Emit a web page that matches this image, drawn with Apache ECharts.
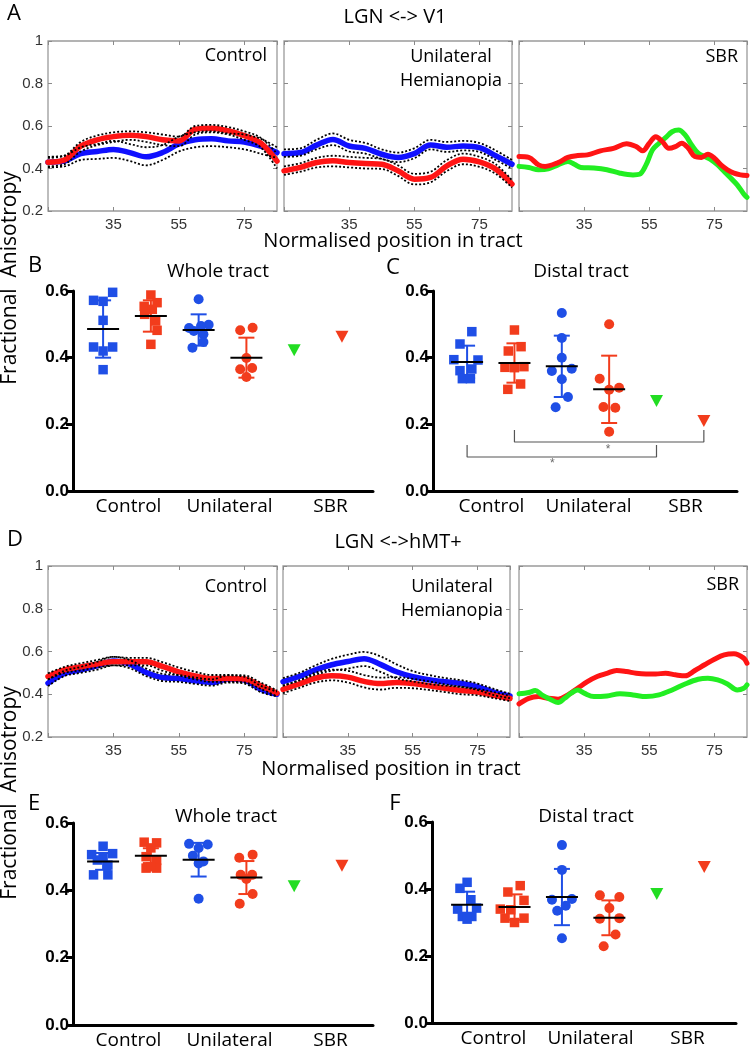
<!DOCTYPE html>
<html><head><meta charset="utf-8">
<script src="https://cdn.jsdelivr.net/npm/echarts@6/dist/echarts.min.js"></script>
<style>html,body{margin:0;padding:0;background:#fff}#c{width:750px;height:1052px}</style>
</head><body><div id="c"></div><script>
// ---------------- DATA ----------------
const tractPos = [15,20,25,30,35,40,45,50,55,60,65,70,75,80,85];
const groupNames = ['Control','Unilateral','SBR'];

// LGN <-> V1, Control
const v1CtrlBlue   = [0.43,0.435,0.47,0.48,0.49,0.475,0.455,0.475,0.515,0.535,0.54,0.53,0.525,0.505,0.475];
const v1CtrlBlueHi = [0.455,0.46,0.5,0.515,0.53,0.515,0.5,0.51,0.55,0.57,0.575,0.565,0.56,0.54,0.5];
const v1CtrlBlueLo = [0.405,0.41,0.44,0.445,0.45,0.435,0.415,0.44,0.48,0.5,0.505,0.5,0.49,0.47,0.45];
const v1CtrlRed    = [0.43,0.44,0.505,0.535,0.55,0.557,0.55,0.535,0.53,0.585,0.59,0.578,0.555,0.52,0.435];
const v1CtrlRedHi  = [0.45,0.46,0.525,0.555,0.57,0.575,0.57,0.56,0.55,0.6,0.605,0.595,0.575,0.545,0.47];
const v1CtrlRedLo  = [0.41,0.42,0.48,0.51,0.525,0.535,0.525,0.51,0.505,0.56,0.57,0.56,0.535,0.5,0.4];
// LGN <-> V1, Unilateral hemianopia
const v1UniBlue   = [0.47,0.475,0.51,0.537,0.506,0.495,0.467,0.452,0.47,0.511,0.5,0.506,0.498,0.46,0.42];
const v1UniBlueHi = [0.49,0.495,0.535,0.565,0.535,0.52,0.49,0.475,0.495,0.535,0.525,0.53,0.52,0.485,0.44];
const v1UniBlueLo = [0.455,0.46,0.49,0.51,0.48,0.47,0.445,0.43,0.448,0.49,0.478,0.485,0.478,0.44,0.4];
const v1UniRed    = [0.389,0.405,0.428,0.436,0.428,0.423,0.42,0.389,0.35,0.358,0.412,0.444,0.431,0.397,0.327];
const v1UniRedHi  = [0.41,0.425,0.45,0.46,0.455,0.45,0.445,0.415,0.375,0.385,0.44,0.47,0.455,0.42,0.345];
const v1UniRedLo  = [0.37,0.385,0.405,0.41,0.405,0.4,0.398,0.365,0.325,0.335,0.388,0.42,0.408,0.375,0.31];
// LGN <-> V1, SBR
const v1SbrRed = [[15,0.456],[18,0.452],[21,0.417],[23,0.41],[27,0.428],[30,0.452],[33,0.461],[36,0.464],[40,0.483],[44,0.495],[48,0.516],[51,0.503],[53,0.483],[55,0.519],[57,0.55],[59,0.527],[61,0.495],[63,0.503],[65,0.519],[67,0.495],[69,0.456],[71,0.452],[73,0.467],[75,0.448],[77,0.417],[79,0.394],[81,0.378],[83,0.37],[85,0.367]];
const v1SbrGreen = [[15,0.41],[18,0.405],[21,0.394],[24,0.398],[27,0.417],[30,0.433],[32,0.42],[34,0.405],[38,0.402],[42,0.394],[46,0.378],[50,0.37],[52,0.373],[54,0.417],[56,0.488],[58,0.519],[60,0.545],[62,0.573],[64,0.581],[66,0.558],[68,0.511],[70,0.472],[72,0.456],[74,0.441],[76,0.417],[78,0.386],[80,0.355],[82,0.323],[84,0.28],[85,0.264]];

// LGN <-> hMT+, Control
const mtCtrlBlue   = [0.452,0.497,0.514,0.533,0.556,0.541,0.502,0.478,0.474,0.463,0.455,0.471,0.466,0.424,0.4];
const mtCtrlBlueHi = [0.468,0.51,0.528,0.552,0.575,0.56,0.52,0.495,0.49,0.478,0.47,0.488,0.482,0.44,0.412];
const mtCtrlBlueLo = [0.438,0.485,0.5,0.515,0.535,0.522,0.485,0.462,0.458,0.448,0.44,0.455,0.45,0.41,0.39];
const mtCtrlRed    = [0.483,0.514,0.528,0.541,0.552,0.552,0.552,0.53,0.505,0.486,0.474,0.474,0.471,0.44,0.405];
const mtCtrlRedHi  = [0.498,0.528,0.545,0.56,0.575,0.57,0.57,0.55,0.525,0.505,0.49,0.49,0.488,0.455,0.418];
const mtCtrlRedLo  = [0.47,0.5,0.512,0.525,0.535,0.535,0.535,0.51,0.488,0.47,0.458,0.458,0.455,0.425,0.39];
// LGN <-> hMT+, Unilateral hemianopia
const mtUniBlue   = [0.459,0.483,0.514,0.538,0.553,0.566,0.54,0.505,0.482,0.468,0.458,0.45,0.435,0.41,0.392];
const mtUniBlueHi = [0.475,0.5,0.535,0.565,0.585,0.598,0.578,0.54,0.508,0.49,0.476,0.466,0.45,0.425,0.402];
const mtUniBlueLo = [0.44,0.465,0.492,0.51,0.52,0.532,0.505,0.475,0.46,0.448,0.44,0.434,0.42,0.396,0.382];
const mtUniRed    = [0.423,0.448,0.475,0.486,0.48,0.46,0.45,0.455,0.45,0.44,0.428,0.418,0.41,0.395,0.38];
const mtUniRedHi  = [0.44,0.465,0.5,0.515,0.51,0.49,0.478,0.48,0.472,0.46,0.446,0.435,0.425,0.41,0.392];
const mtUniRedLo  = [0.405,0.43,0.455,0.465,0.455,0.432,0.422,0.43,0.428,0.42,0.41,0.4,0.395,0.382,0.368];
// LGN <-> hMT+, SBR
const mtSbrRed = [[15,0.355],[18,0.381],[21,0.389],[24,0.381],[27,0.377],[30,0.397],[33,0.428],[36,0.459],[39,0.483],[42,0.498],[45,0.511],[48,0.506],[51,0.498],[54,0.495],[57,0.495],[60,0.498],[63,0.491],[66,0.486],[69,0.511],[72,0.538],[75,0.564],[78,0.584],[81,0.589],[84,0.569],[85,0.545]];
const mtSbrGreen = [[15,0.402],[18,0.408],[20,0.417],[22,0.397],[25,0.373],[27,0.361],[29,0.381],[31,0.405],[33,0.42],[35,0.405],[38,0.389],[42,0.392],[46,0.402],[50,0.397],[54,0.389],[58,0.397],[62,0.42],[66,0.448],[70,0.47],[73,0.475],[76,0.467],[79,0.448],[82,0.42],[84,0.428],[85,0.444]];

// Scatter panels: groups = Control(ctrl), Control(hemi), Unilateral(ctrl), Unilateral(hemi), SBR green, SBR red
const wholeV1Vals = [
  [0.596,0.572,0.569,0.512,0.432,0.432,0.42,0.364],
  [0.588,0.565,0.554,0.545,0.53,0.51,0.482,0.44],
  [0.575,0.499,0.495,0.489,0.48,0.47,0.447,0.43],
  [0.49,0.482,0.399,0.369,0.365,0.342],
  [0.422],[0.463]];
const wholeV1Jit = [
  [0.2,-0.2,0,0,-0.2,0.2,0,0],
  [0,0.13,-0.14,0.03,-0.13,0.1,0.13,0],
  [0,0.21,0.05,-0.2,-0.1,0.1,0.1,-0.13],
  [0.13,-0.13,0,0.12,-0.13,0],
  [0],[0]];
const wholeV1Mean = [0.486,0.525,0.483,0.40];
const wholeV1Sd   = [0.086,0.047,0.047,0.06];

const distalV1Vals = [
  [0.478,0.441,0.394,0.393,0.361,0.366,0.337,0.337],
  [0.483,0.433,0.42,0.373,0.371,0.37,0.321,0.305],
  [0.534,0.459,0.40,0.36,0.367,0.335,0.282,0.251],
  [0.50,0.337,0.304,0.31,0.252,0.25,0.178],
  [0.27],[0.21]];
const distalV1Jit = [
  [0.1,-0.15,-0.28,0.23,-0.15,0.1,-0.1,0.07],
  [0,0.14,-0.13,0.2,-0.2,0,0.13,-0.14],
  [0,0,0,-0.21,0.21,0,0.13,-0.13],
  [0,-0.2,0,0.21,-0.12,0.13,0],
  [0],[0]];
const distalV1Mean = [0.387,0.384,0.374,0.305];
const distalV1Sd   = [0.049,0.059,0.092,0.101];

const wholeMTVals = [
  [0.531,0.509,0.506,0.50,0.49,0.475,0.446,0.446],
  [0.543,0.541,0.526,0.50,0.489,0.466,0.466,0.47],
  [0.538,0.536,0.526,0.503,0.486,0.48,0.375],
  [0.506,0.497,0.446,0.446,0.434,0.389,0.36],
  [0.412],[0.473]];
const wholeMTJit = [
  [0,0.2,-0.24,0,-0.12,0.1,-0.2,0.1],
  [-0.14,0.12,0,-0.1,0.12,-0.1,0.12,0],
  [-0.2,0.19,0,-0.12,0.1,0,0],
  [0.13,-0.15,-0.12,0.12,0,0.13,-0.14],
  [0],[0]];
const wholeMTMean = [0.486,0.503,0.491,0.438];
const wholeMTSd   = [0.025,0.022,0.05,0.049];

const distalMTVals = [
  [0.42,0.402,0.368,0.34,0.343,0.318,0.318,0.31],
  [0.41,0.391,0.366,0.34,0.338,0.313,0.313,0.30],
  [0.531,0.457,0.37,0.368,0.35,0.335,0.253],
  [0.381,0.376,0.343,0.311,0.313,0.264,0.229],
  [0.385],[0.466]];
const distalMTJit = [
  [0,-0.15,0.08,-0.2,0.2,-0.1,0.1,0],
  [0.12,-0.14,0.2,-0.3,-0.08,0.2,-0.2,0],
  [0,0,0.21,-0.21,0.08,-0.1,0],
  [-0.2,0.21,0,-0.2,0.21,0.13,-0.12],
  [0],[0]];
const distalMTMean = [0.353,0.346,0.376,0.314];
const distalMTSd   = [0.039,0.038,0.084,0.052];

// significance brackets in panel C: [fromGroup, toGroup, level]
const sigBrackets = [[0,4,0.102],[1,5,0.147]];

// ---------------- STYLE ----------------
const LB='#1010ff', LR='#ff1414', LG='#22ee22';
const SB='#1f4fe6', SR='#f23c1c', SG='#22dd22';
const groupColor=[SB,SR,SB,SR,SG,SR];
const triDown='path://M0,0L10,0L5,9Z';
const groupSymbol=['rect','rect','circle','circle',triDown,triDown];
const groupSize=[9.5,9.5,10,10,[13,12],[13,12]];
const TXT='"Open Sans", "Noto Sans", sans-serif';
const NUM='"Liberation Sans", Arial, sans-serif';

const grids=[], xAxes=[], yAxes=[], series=[], graphics=[];
const pair = v => tractPos.map((x,i)=>[x,v[i]]);

function addLineGrid(box, showY){
  const g=grids.length;
  grids.push(Object.assign({show:true,borderColor:'#9a9a9a',borderWidth:1.3,outerBoundsMode:'none'},box));
  const tick={inside:true,length:4,lineStyle:{color:'#8a8a8a',width:1}};
  const xi=xAxes.length;
  xAxes.push({type:'value',gridIndex:g,min:15,max:85,interval:20,position:'bottom',
    axisLine:{show:false},axisTick:tick,splitLine:{show:false},
    axisLabel:{formatter:v=>(v===15||v===85)?'':String(v),showMaxLabel:false,fontSize:15,color:'#333',fontFamily:NUM,margin:6}});
  xAxes.push({type:'value',gridIndex:g,min:15,max:85,interval:20,position:'top',
    axisLine:{show:false},axisTick:tick,splitLine:{show:false},axisLabel:{show:false}});
  const yi=yAxes.length;
  yAxes.push({type:'value',gridIndex:g,min:0.2,max:1,interval:0.2,position:'left',
    axisLine:{show:false},axisTick:tick,splitLine:{show:false},
    axisLabel:{show:showY,fontSize:15,color:'#333',fontFamily:NUM,margin:5}});
  yAxes.push({type:'value',gridIndex:g,min:0.2,max:1,interval:0.2,position:'right',
    axisLine:{show:false},axisTick:tick,splitLine:{show:false},axisLabel:{show:false}});
  return {xi,yi};
}
function addLine(ax,data,color,width,dotted,z){
  series.push({type:'line',xAxisIndex:ax.xi,yAxisIndex:ax.yi,data,smooth:0.35,symbol:'none',silent:true,
    lineStyle:{color,width,type:dotted?[2,2]:'solid',cap:dotted?'butt':'round'},z});
}
function addBandedPanel(ax,blue,blueHi,blueLo,red,redHi,redLo){
  addLine(ax,pair(blue),LB,5.5,false,2);
  addLine(ax,pair(red),LR,5.5,false,3);
  [blueHi,blueLo,redHi,redLo].forEach(b=>addLine(ax,pair(b),'#000',1.8,true,4));
}

function addScatterGrid(box,xmin,xmax,vals,jit,mean,sd,catBox){
  const g=grids.length;
  grids.push(Object.assign({outerBoundsMode:'none'},box));
  const xi=xAxes.length;
  xAxes.push({type:'value',gridIndex:g,min:xmin,max:xmax,
    axisLine:{show:true,onZero:false,lineStyle:{color:'#000',width:3}},
    axisTick:{show:false},axisLabel:{show:false},splitLine:{show:false}});
  const yi=yAxes.length;
  yAxes.push({type:'value',gridIndex:g,min:0,max:0.6,interval:0.2,
    axisLine:{show:true,onZero:false,lineStyle:{color:'#000',width:3}},
    axisTick:{show:true,length:7,lineStyle:{color:'#000',width:3}},
    axisLabel:{formatter:v=>v.toFixed(1),fontWeight:'bold',fontSize:17,color:'#000',fontFamily:NUM,margin:4},
    splitLine:{show:false}});
  // error bars (SD)
  series.push({type:'custom',xAxisIndex:xi,yAxisIndex:yi,z:2,silent:true,
    data:mean.map((m,k)=>[k,m,sd[k]]),
    renderItem:(p,api)=>{
      const k=api.value(0),m=api.value(1),s=api.value(2);
      const t=api.coord([k,m+s]),b=api.coord([k,m-s]);
      const st={stroke:groupColor[k],lineWidth:2};
      return {type:'group',children:[
        {type:'line',shape:{x1:t[0],y1:t[1],x2:b[0],y2:b[1]},style:st},
        {type:'line',shape:{x1:t[0]-8,y1:t[1],x2:t[0]+8,y2:t[1]},style:st},
        {type:'line',shape:{x1:b[0]-8,y1:b[1],x2:b[0]+8,y2:b[1]},style:st}]};
    }});
  vals.forEach((vs,k)=>{
    series.push({type:'scatter',xAxisIndex:xi,yAxisIndex:yi,z:3,silent:true,
      symbol:groupSymbol[k],symbolSize:groupSize[k],itemStyle:{color:groupColor[k],opacity:1},
      data:vs.map((v,j)=>[k+jit[k][j],v])});
  });
  // mean lines
  series.push({type:'custom',xAxisIndex:xi,yAxisIndex:yi,z:4,silent:true,
    data:mean.map((m,k)=>[k,m]),
    renderItem:(p,api)=>{
      const c=api.coord([api.value(0),api.value(1)]);
      return {type:'line',shape:{x1:c[0]-16,y1:c[1],x2:c[0]+16,y2:c[1]},style:{stroke:'#000',lineWidth:2}};
    }});
  // group labels
  const cg=grids.length;
  grids.push(Object.assign({outerBoundsMode:'none',height:1},catBox));
  xAxes.push({type:'category',gridIndex:cg,data:groupNames,position:'bottom',
    axisLine:{show:false},axisTick:{show:false},
    axisLabel:{fontSize:19,color:'#000',fontFamily:TXT,margin:5,interval:0}});
  yAxes.push({type:'value',gridIndex:cg,show:false});
  return {xi,yi};
}

// ---------------- BUILD ----------------
const a1=addLineGrid({left:48,top:41,width:229,height:170},true);
const a2=addLineGrid({left:284,top:41,width:228,height:170},false);
const a3=addLineGrid({left:519,top:41,width:228,height:170},false);
const d1=addLineGrid({left:48,top:566,width:229,height:171},true);
const d2=addLineGrid({left:283,top:566,width:227,height:171},false);
const d3=addLineGrid({left:519,top:566,width:228,height:171},false);

addBandedPanel(a1,v1CtrlBlue,v1CtrlBlueHi,v1CtrlBlueLo,v1CtrlRed,v1CtrlRedHi,v1CtrlRedLo);
addBandedPanel(a2,v1UniBlue,v1UniBlueHi,v1UniBlueLo,v1UniRed,v1UniRedHi,v1UniRedLo);
addLine(a3,v1SbrGreen,LG,5,false,2);
addLine(a3,v1SbrRed,LR,5,false,3);
addBandedPanel(d1,mtCtrlBlue,mtCtrlBlueHi,mtCtrlBlueLo,mtCtrlRed,mtCtrlRedHi,mtCtrlRedLo);
addBandedPanel(d2,mtUniBlue,mtUniBlueHi,mtUniBlueLo,mtUniRed,mtUniRedHi,mtUniRedLo);
addLine(d3,mtSbrRed,LR,5,false,2);
addLine(d3,mtSbrGreen,LG,5,false,3);

addScatterGrid({left:73,top:291,width:300,height:200},-0.63,5.65,wholeV1Vals,wholeV1Jit,wholeV1Mean,wholeV1Sd,{left:78,top:491,width:303});
const c=addScatterGrid({left:433,top:291,width:304,height:200},-0.72,5.7,distalV1Vals,distalV1Jit,distalV1Mean,distalV1Sd,{left:443,top:491,width:291});
addScatterGrid({left:73,top:823,width:300,height:202},-0.63,5.65,wholeMTVals,wholeMTJit,wholeMTMean,wholeMTSd,{left:78,top:1025,width:303});
addScatterGrid({left:432,top:822,width:304,height:201},-0.74,5.67,distalMTVals,distalMTJit,distalMTMean,distalMTSd,{left:445,top:1023,width:291});

// significance brackets (panel C)
sigBrackets.forEach(([a,b,lvl])=>{
  series.push({type:'line',xAxisIndex:c.xi,yAxisIndex:c.yi,symbol:'none',silent:true,z:1,
    lineStyle:{color:'#555',width:1.2},
    data:[[a,lvl+0.036],[a,lvl],[b,lvl],[b,lvl+0.036]]});
});
series.push({type:'scatter',xAxisIndex:c.xi,yAxisIndex:c.yi,symbolSize:0,silent:true,
  label:{show:true,formatter:'*',color:'#444',fontSize:12,fontFamily:NUM,position:'inside'},
  data:[[1.8,0.082],[2.98,0.124]]});

// ---------------- TEXT ----------------
function txt(x,y,t,size,align,extra){
  graphics.push(Object.assign({type:'text',x,y,silent:true,
    style:{text:t,font:size+'px '+TXT,fill:'#000',textAlign:align||'center',textVerticalAlign:'middle'}},extra||{}));
}
txt(395,17,'LGN <-> V1',20);
txt(398,542,'LGN <->hMT+',20);
txt(14,14,'A',22); txt(35,266,'B',22); txt(393,268,'C',22);
txt(15,540,'D',22); txt(34,804,'E',22); txt(395,804,'F',22);
txt(393,241,'Normalised position in tract',20);
txt(391,769,'Normalised position in tract',20);
txt(10,278,'Fractional  Anisotropy',21,'center',{rotation:Math.PI/2});
txt(10,793,'Fractional  Anisotropy',21,'center',{rotation:Math.PI/2});
txt(267,56,'Control',18,'right');
txt(451,57,'Unilateral',18); txt(451,81,'Hemianopia',18);
txt(738,57,'SBR',18,'right');
txt(267,587,'Control',18,'right');
txt(452,587,'Unilateral',18); txt(452,611,'Hemianopia',18);
txt(739,585,'SBR',18,'right');
txt(218,272,'Whole tract',19);
txt(581,272,'Distal tract',19);
txt(226,817,'Whole tract',19);
txt(586,817,'Distal tract',19);

const chart=echarts.init(document.getElementById('c'),null,{renderer:'canvas'});
chart.setOption({animation:false,backgroundColor:'#fff',grid:grids,xAxis:xAxes,yAxis:yAxes,series,graphic:{elements:graphics}});
</script></body></html>
